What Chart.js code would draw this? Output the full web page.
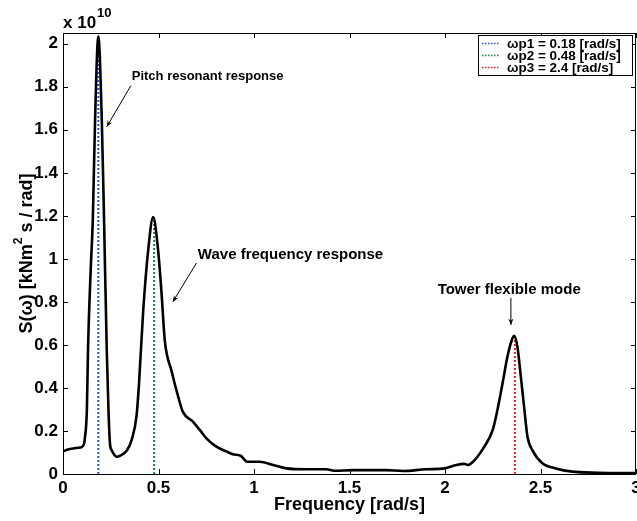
<!DOCTYPE html>
<html lang="en">
<head>
<meta charset="UTF-8">
<title>Spectrum S(w)</title>
<script src="https://cdn.jsdelivr.net/npm/chart.js"></script>
<style>
  body { margin: 0; background: #fff; }
</style>
</head>
<body>
<canvas id="psdChart" width="637" height="521"></canvas>
<script>
// spectrum (x: rad/s, y: x 1e10 kNm^2 s/rad)
const freq = [0, 0.03, 0.06, 0.09, 0.11, 0.115, 0.125, 0.131, 0.145, 0.156, 0.168, 0.185,
  0.203, 0.215, 0.229, 0.238, 0.246, 0.255, 0.268, 0.281, 0.3, 0.335, 0.36, 0.385, 0.398,
  0.42, 0.446, 0.472, 0.498, 0.516, 0.533, 0.568, 0.603, 0.627, 0.68, 0.716, 0.751, 0.803,
  0.855, 0.889, 0.93, 0.965, 1.03, 1.1, 1.17, 1.27, 1.38, 1.42, 1.52, 1.69, 1.78, 1.9,
  1.997, 2.06, 2.1, 2.12, 2.15, 2.17, 2.206, 2.25, 2.275, 2.301, 2.327, 2.35, 2.362,
  2.379, 2.397, 2.414, 2.432, 2.458, 2.51, 2.58, 2.666, 2.8, 3.0];
const psd = [0.105, 0.115, 0.12, 0.123, 0.14, 0.17, 0.3, 0.58, 0.95, 1.18, 1.65, 2.034,
  1.65, 1.18, 0.58, 0.3, 0.14, 0.11, 0.09, 0.08, 0.085, 0.11, 0.16, 0.27, 0.42,
  0.76, 1.04, 1.194, 1.04, 0.84, 0.62, 0.48, 0.36, 0.29, 0.243, 0.205, 0.166, 0.127,
  0.105, 0.092, 0.085, 0.057, 0.057, 0.042, 0.026, 0.022, 0.022, 0.015, 0.018, 0.018, 0.014, 0.022,
  0.026, 0.042, 0.047, 0.042, 0.06, 0.08, 0.127, 0.205, 0.3, 0.42, 0.546, 0.623, 0.642,
  0.592, 0.453, 0.313, 0.173, 0.11, 0.05, 0.026, 0.011, 0.006, 0.004];

// natural frequencies (dotted markers)
const modeLabels = ['\u03c9p1 = 0.18 [rad/s]', '\u03c9p2 = 0.48 [rad/s]', '\u03c9p3 = 2.4 [rad/s]'];
const modeFreqs = [0.185, 0.477, 2.366];
const modePeaks = [2.034, 1.194, 0.642];
const modeColors = ['#2b4fc4', '#138a3c', '#f02020'];

const xTicks = [0, 0.5, 1, 1.5, 2, 2.5, 3];
const yTicks = [0, 0.2, 0.4, 0.6, 0.8, 1, 1.2, 1.4, 1.6, 1.8, 2];

const notes = [
  { text: 'Pitch resonant response', x: 0.36, y: 1.846, align: 'left', size: 13, from: [0.355, 1.805], to: [0.229, 1.614] },
  { text: 'Wave frequency response', x: 0.706, y: 1.019, align: 'left', size: 15, from: [0.699, 0.981], to: [0.575, 0.8] },
  { text: 'Tower flexible mode', x: 2.336, y: 0.856, align: 'center', size: 15, from: [2.345, 0.819], to: [2.345, 0.693] }
];

const FONT = 'Liberation Sans, Arial, sans-serif';

const datasets = [{
  label: 'S',
  data: freq.map((f, i) => ({ x: f, y: psd[i] })),
  borderColor: '#000',
  borderWidth: 2.6,
  pointRadius: 0,
  cubicInterpolationMode: 'monotone',
  fill: false,
  order: 0
}];
modeFreqs.forEach((f, i) => {
  datasets.push({
    label: modeLabels[i],
    data: [{ x: f, y: 0 }, { x: f, y: modePeaks[i] }],
    borderColor: modeColors[i],
    borderWidth: 2,
    borderDash: [2, 2],
    pointRadius: 0,
    fill: false,
    order: 1
  });
});

function arrow(ctx, x1, y1, x2, y2) {
  ctx.beginPath();
  ctx.moveTo(x1, y1);
  ctx.lineTo(x2, y2);
  ctx.stroke();
  const a = Math.atan2(y2 - y1, x2 - x1);
  const len = 7, w = 0.38;
  ctx.beginPath();
  ctx.moveTo(x2, y2);
  ctx.lineTo(x2 - len * Math.cos(a - w), y2 - len * Math.sin(a - w));
  ctx.lineTo(x2 - len * 0.6 * Math.cos(a), y2 - len * 0.6 * Math.sin(a));
  ctx.lineTo(x2 - len * Math.cos(a + w), y2 - len * Math.sin(a + w));
  ctx.closePath();
  ctx.fill();
}

const decor = {
  id: 'decor',
  afterDraw(chart) {
    const { ctx, chartArea: ca, scales } = chart;
    const xs = scales.x, ys = scales.y;
    ctx.save();
    ctx.strokeStyle = '#000';
    ctx.fillStyle = '#000';
    ctx.lineWidth = 1;

    // box
    ctx.strokeRect(ca.left + 0.5, ca.top + 0.5, ca.right - ca.left - 1, ca.bottom - ca.top);

    // inward ticks on all sides
    ctx.beginPath();
    xTicks.forEach(v => {
      const px = Math.round(xs.getPixelForValue(v)) + 0.5;
      ctx.moveTo(px, ca.bottom); ctx.lineTo(px, ca.bottom - 5);
      ctx.moveTo(px, ca.top); ctx.lineTo(px, ca.top + 5);
    });
    yTicks.forEach(v => {
      const py = Math.round(ys.getPixelForValue(v)) + 0.5;
      ctx.moveTo(ca.left, py); ctx.lineTo(ca.left + 5, py);
      ctx.moveTo(ca.right, py); ctx.lineTo(ca.right - 5, py);
    });
    ctx.stroke();

    // exponent
    ctx.textBaseline = 'alphabetic';
    ctx.textAlign = 'left';
    ctx.font = 'bold 17px ' + FONT;
    ctx.fillText('x 10', ca.left, ca.top - 5);
    const w10 = ctx.measureText('x 10').width;
    ctx.font = 'bold 13px ' + FONT;
    ctx.fillText('10', ca.left + w10 + 1, ca.top - 16);

    // y axis title
    ctx.save();
    ctx.translate(27, (ca.top + ca.bottom) / 2);
    ctx.rotate(-Math.PI / 2);
    ctx.font = 'bold 18px ' + FONT;
    const p1 = 'S(\u03c9) [kNm', p2 = ' s / rad]';
    const w1 = ctx.measureText(p1).width, w2 = ctx.measureText(p2).width;
    ctx.font = 'bold 12px ' + FONT;
    const ws = ctx.measureText('2').width;
    const x0 = -(w1 + ws + w2) / 2;
    ctx.textBaseline = 'middle';
    ctx.font = 'bold 18px ' + FONT;
    ctx.fillText(p1, x0, 0);
    ctx.fillText(p2, x0 + w1 + ws, 0);
    ctx.font = 'bold 12px ' + FONT;
    ctx.fillText('2', x0 + w1, -8);
    ctx.restore();

    // annotations
    ctx.textBaseline = 'middle';
    notes.forEach(n => {
      ctx.font = 'bold ' + n.size + 'px ' + FONT;
      ctx.textAlign = n.align;
      ctx.fillText(n.text, xs.getPixelForValue(n.x), ys.getPixelForValue(n.y));
      arrow(ctx, xs.getPixelForValue(n.from[0]), ys.getPixelForValue(n.from[1]),
        xs.getPixelForValue(n.to[0]), ys.getPixelForValue(n.to[1]));
    });

    // legend box, top right inside the axes
    const items = chart.data.datasets.slice(1);
    const bx = 478, by = ca.top + 2, bw = 154, rowH = 12;
    const bh = items.length * rowH + 4;
    ctx.fillStyle = '#fff';
    ctx.fillRect(bx, by, bw, bh);
    ctx.strokeStyle = '#000';
    ctx.lineWidth = 1;
    ctx.strokeRect(bx + 0.5, by + 0.5, bw, bh);
    items.forEach((d, i) => {
      const cy = by + 2.5 + rowH * (i + 0.5);
      ctx.strokeStyle = d.borderColor;
      ctx.lineWidth = 1.5;
      ctx.setLineDash([1.5, 1.5]);
      ctx.beginPath();
      ctx.moveTo(bx + 4, cy); ctx.lineTo(bx + 22, cy);
      ctx.stroke();
      ctx.setLineDash([]);
      ctx.fillStyle = '#000';
      ctx.textAlign = 'left';
      ctx.font = 'bold 13.5px ' + FONT;
      ctx.fillText(d.label, bx + 29, cy + 0.5);
    });
    ctx.restore();
  }
};

new Chart(document.getElementById('psdChart').getContext('2d'), {
  type: 'line',
  data: { datasets: datasets },
  options: {
    responsive: false,
    animation: false,
    layout: { padding: { top: 33, right: 1, left: 0, bottom: 0 }, autoPadding: false },
    plugins: { legend: { display: false }, tooltip: { enabled: false } },
    scales: {
      x: {
        type: 'linear', min: 0, max: 3,
        afterBuildTicks: s => { s.ticks = xTicks.map(v => ({ value: v })); },
        afterFit: s => { s.height = 47; s.paddingLeft = 0; s.paddingRight = 0; },
        grid: { display: false, drawTicks: false, tickLength: 0 },
        border: { display: false },
        ticks: { color: '#000', padding: 4, maxRotation: 0, autoSkip: false,
          font: { family: FONT, size: 17, weight: 'bold' }, callback: v => String(v) },
        title: { display: true, text: 'Frequency [rad/s]', color: '#000', padding: { top: 0, bottom: 5 },
          font: { family: FONT, size: 18, weight: 'bold' } }
      },
      y: {
        type: 'linear', min: 0, max: 2.05,
        afterBuildTicks: s => { s.ticks = yTicks.map(v => ({ value: v })); },
        afterFit: s => { s.width = 63; s.paddingTop = 0; s.paddingBottom = 0; },
        grid: { display: false, drawTicks: false, tickLength: 0 },
        border: { display: false },
        ticks: { color: '#000', padding: 5, autoSkip: false,
          font: { family: FONT, size: 17, weight: 'bold' }, callback: v => String(v) }
      }
    }
  },
  plugins: [decor]
});
</script>
</body>
</html>
